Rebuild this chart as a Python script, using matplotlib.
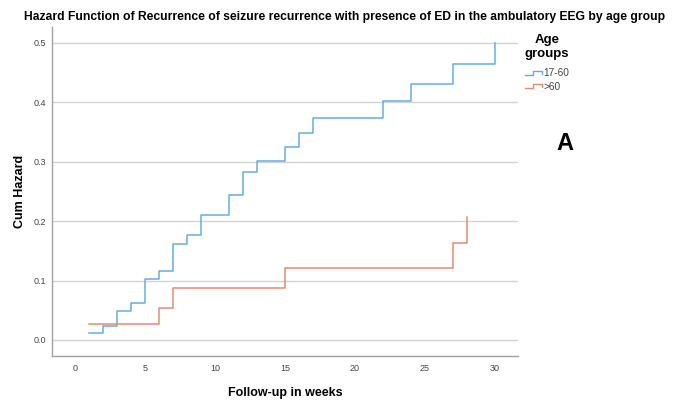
import matplotlib.pyplot as plt
import matplotlib
from matplotlib.legend_handler import HandlerBase
from matplotlib.lines import Line2D
plt.rcParams['font.family'] = ['Liberation Sans', 'DejaVu Sans']

# cumulative hazard (weeks, value)
weeks_young = [1, 2, 3, 4, 5, 6, 7, 8, 9, 11, 12, 13, 15, 16, 17, 22, 24, 27, 30]
haz_young = [0.011, 0.024, 0.049, 0.062, 0.102, 0.116, 0.161, 0.176, 0.210, 0.244,
             0.283, 0.302, 0.324, 0.349, 0.374, 0.402, 0.431, 0.464, 0.500]
weeks_old = [1, 6, 7, 15, 27, 28]
haz_old = [0.026, 0.054, 0.087, 0.1215, 0.163, 0.207]
group_labels = ['17-60', '>60']
colors = ['#63ADE6', '#E58A73']


class StepHandler(HandlerBase):
    def create_artists(self, legend, orig_handle, xd, yd, w, h, fontsize, trans):
        xs = [xd, xd + 0.45 * w, xd + 0.45 * w, xd + w, xd + w]
        ys = [yd + 0.15 * h, yd + 0.15 * h, yd + 0.8 * h, yd + 0.8 * h, yd + 0.3 * h]
        ln = Line2D(xs, ys, color=orig_handle.get_color(), lw=1.0, transform=trans)
        return [ln]


fig = plt.figure(figsize=(6.76, 4.01), dpi=100)
ax = fig.add_axes([0.077, 0.113, 0.689, 0.82])

l1, = ax.step(weeks_young, haz_young, where='post', color=colors[0], lw=1.1, label=group_labels[0])
l2, = ax.step(weeks_old, haz_old, where='post', color=colors[1], lw=1.1, label=group_labels[1])

ax.set_xlim(-1.64, 31.64)
ax.set_ylim(-0.0265, 0.527)
ax.set_xticks(range(0, 31, 5))
ax.set_yticks([0.0, 0.1, 0.2, 0.3, 0.4, 0.5])
ax.set_yticklabels(['0.0', '0.1', '0.2', '0.3', '0.4', '0.5'])
ax.tick_params(length=0, labelsize=6.5, labelcolor='#444444')
ax.tick_params(axis='x', pad=6)
ax.tick_params(axis='y', pad=4)
ax.grid(axis='y', color='#d4d4d4', lw=1.0, zorder=0)
for s in ['top', 'right']:
    ax.spines[s].set_visible(False)
for s in ['left', 'bottom']:
    ax.spines[s].set_color('#a0a0a0')
    ax.spines[s].set_linewidth(1.0)

ax.set_xlabel('Follow-up in weeks', fontsize=9, fontweight='bold', labelpad=10)
ax.set_ylabel('Cum Hazard', fontsize=9, fontweight='bold', labelpad=6)

fig.text(0.51, 0.958, 'Hazard Function of Recurrence of seizure recurrence with presence of ED in the ambulatory EEG by age group',
         ha='center', va='center', fontsize=8.7, fontweight='bold')

leg = fig.legend(handles=[l1, l2], labels=group_labels, handler_map={Line2D: StepHandler()},
                 loc='upper left', bbox_to_anchor=(0.766, 0.932), frameon=False,
                 fontsize=7.3, title='Age\ngroups', title_fontproperties={'weight': 'bold', 'size': 9.5},
                 handlelength=1.7, handletextpad=0.15, labelspacing=0.3, borderpad=0.2)
leg.get_title().set_multialignment('center')
leg._legend_box.sep = 6
for t in leg.get_texts():
    t.set_color('#444444')

fig.text(0.836, 0.643, 'A', ha='center', va='center', fontsize=17, fontweight='heavy')

plt.savefig('out.png', dpi=100)
